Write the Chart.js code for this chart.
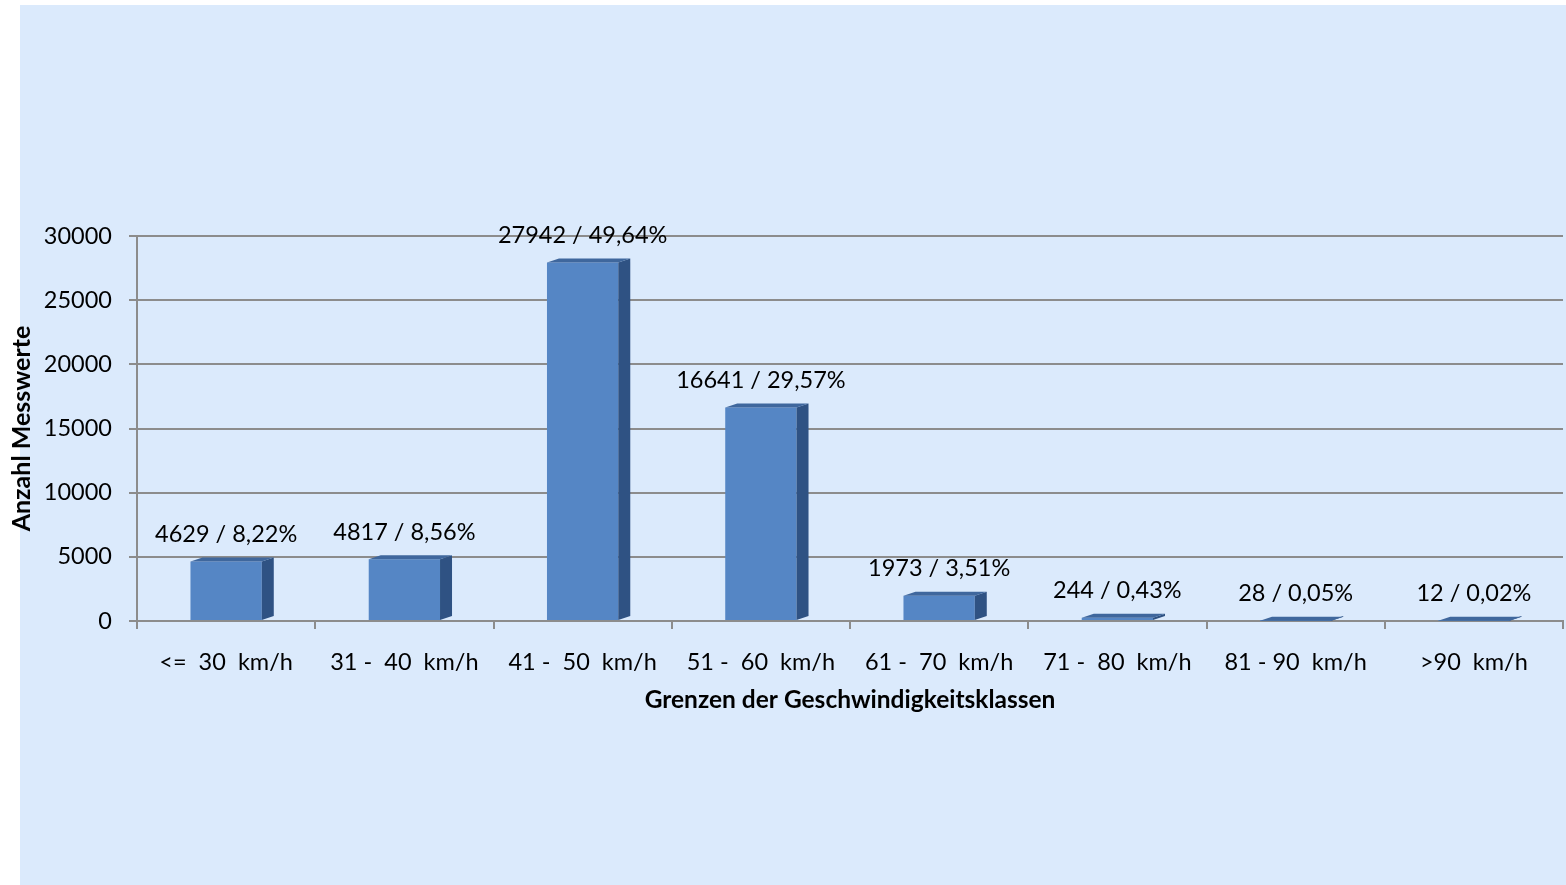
<!DOCTYPE html>
<html>
<head>
<meta charset="utf-8">
<script src="https://cdn.jsdelivr.net/npm/chart.js@4.4.0/dist/chart.umd.min.js"></script>
<style>
  body { margin: 0; background: #ffffff; }
  #bg { position: absolute; left: 20px; top: 5px; width: 1546px; height: 880px; background: #dbeafc; }
  #wrap { position: absolute; left: 0; top: 0; width: 1566px; height: 885px; }
</style>
</head>
<body>
<div id="bg"></div>
<div id="wrap"><canvas id="SpeedChart" width="1566" height="885"></canvas></div>
<script>
// Geschwindigkeitsklassen
var categories = ["<=  30  km/h", "31 -  40  km/h", "41 -  50  km/h", "51 -  60  km/h", "61 -  70  km/h", "71 -  80  km/h", "81 - 90  km/h", ">90  km/h"];
var counts = [4629, 4817, 27942, 16641, 1973, 244, 28, 12];
var percents = [8.22, 8.56, 49.64, 29.57, 3.51, 0.43, 0.05, 0.02];
var yTicks = [0, 5000, 10000, 15000, 20000, 25000, 30000];

var FONT = "Lato, 'Open Sans', sans-serif";

// fake 3D: side + top face of every bar, plus the value label
var bar3d = {
  id: "bar3d",
  afterDatasetsDraw: function(chart) {
    var ctx = chart.ctx;
    var meta = chart.getDatasetMeta(0);
    var dx = 12, dy = -4;
    meta.data.forEach(function(bar, i) {
      var p = bar.getProps(["x", "y", "base", "width"], true);
      var l = p.x - p.width / 2, r = p.x + p.width / 2;
      ctx.save();
      ctx.fillStyle = "#2f5283";
      ctx.beginPath();
      ctx.moveTo(r, p.y);
      ctx.lineTo(r + dx, p.y + dy);
      ctx.lineTo(r + dx, p.base + dy);
      ctx.lineTo(r, p.base);
      ctx.closePath();
      ctx.fill();
      ctx.fillStyle = "#3f679d";
      ctx.beginPath();
      ctx.moveTo(l, p.y);
      ctx.lineTo(l + dx, p.y + dy);
      ctx.lineTo(r + dx, p.y + dy);
      ctx.lineTo(r, p.y);
      ctx.closePath();
      ctx.fill();
      ctx.fillStyle = "#000000";
      ctx.font = "23.5px " + FONT;
      ctx.textAlign = "center";
      ctx.textBaseline = "middle";
      var txt = counts[i] + " / " + percents[i].toFixed(2).replace(".", ",") + "%";
      ctx.fillText(txt, p.x, p.y - 27);
      ctx.restore();
    });
  }
};

var speedCanvas = document.getElementById("SpeedChart").getContext("2d");
var speed_chart = new Chart(speedCanvas, {
  type: "bar",
  data: {
    labels: categories,
    datasets: [
      {
        label: "Anzahl Messwerte",
        data: counts,
        backgroundColor: "#5586c5",
        borderWidth: 0,
        barPercentage: 0.4,
        categoryPercentage: 1.0
      }
    ]
  },
  options: {
    responsive: false,
    animation: false,
    layout: {
      padding: { top: 236, right: 3, bottom: 150, left: 0 }
    },
    plugins: {
      legend: { display: false },
      tooltip: { enabled: false }
    },
    scales: {
      x: {
        offset: true,
        grid: {
          offset: true,
          drawOnChartArea: false,
          drawTicks: true,
          tickLength: 8,
          color: "#8c8c8c",
          lineWidth: 2
        },
        border: { color: "#8c8c8c", width: 2 },
        ticks: {
          color: "#000000",
          font: { family: FONT, size: 23.5 },
          padding: 19,
          maxRotation: 0,
          autoSkip: false
        },
        title: {
          display: true,
          text: "Grenzen der Geschwindigkeitsklassen",
          color: "#000000",
          font: { family: FONT, size: 24.5, weight: "bold" },
          padding: { top: 0, bottom: 20 }
        },
        afterFit: function(scale) { scale.height = 885 - 621 - 150; }
      },
      y: {
        min: 0,
        max: 30000,
        afterBuildTicks: function(scale) {
          scale.ticks = yTicks.map(function(v) { return { value: v }; });
        },
        grid: {
          color: "#8c8c8c",
          lineWidth: 2,
          tickLength: 8
        },
        border: { color: "#8c8c8c", width: 2 },
        ticks: {
          color: "#000000",
          font: { family: FONT, size: 23.5 },
          padding: 17,
          callback: function(v) { return String(v); }
        },
        title: {
          display: true,
          text: "Anzahl Messwerte",
          color: "#000000",
          font: { family: FONT, size: 25, weight: "bold" },
          padding: { top: 7, bottom: 0 }
        },
        afterFit: function(scale) { scale.width = 137; }
      }
    }
  },
  plugins: [bar3d]
});
</script>
</body>
</html>
